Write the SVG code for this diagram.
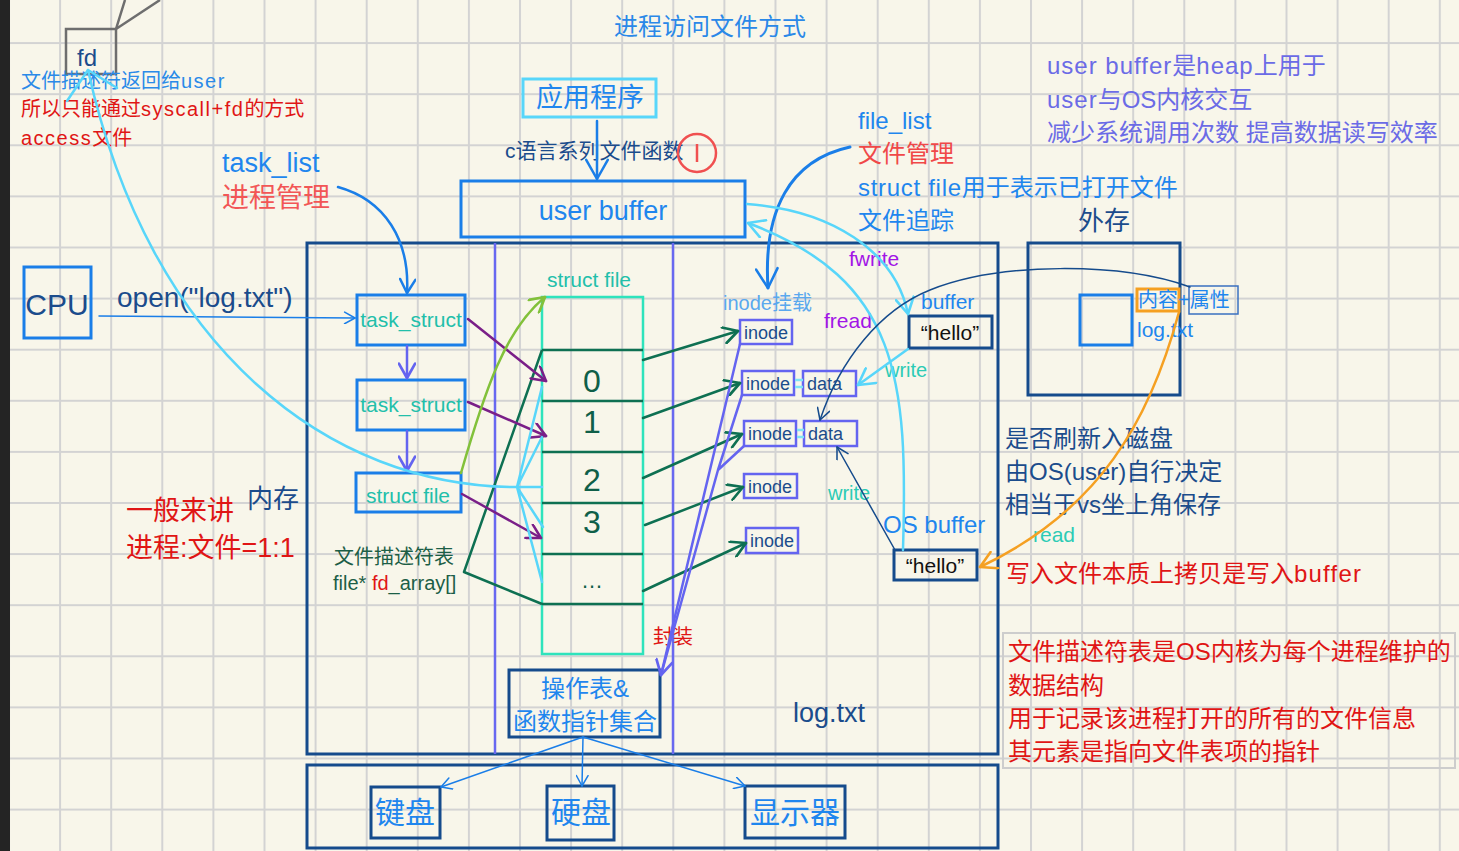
<svg xmlns="http://www.w3.org/2000/svg" width="1459" height="851" viewBox="0 0 1459 851">
<style>
text{font-family:"Liberation Sans","Noto Sans CJK SC",sans-serif;}
.navy{fill:#1b4c8c}.blue{fill:#1f86ee}.red{fill:#e01515}.salmon{fill:#f25656}.teal{fill:#22bfaa}
.purple{fill:#a215e6}.dgreen{fill:#1c5e46}.note{fill:#6b6be6}.lblue{fill:#5aa8ee}.blk{fill:#111}
.bn{fill:none;stroke:#154b8c;stroke-width:3}
.bb{fill:none;stroke:#1a7ee8;stroke-width:3}
.bi{fill:none;stroke:#6464f0;stroke-width:2.5}
.c{text-anchor:middle}
.ln{fill:none;stroke-linecap:round;stroke-linejoin:round}
.ls{letter-spacing:1.5px}
</style>
<defs>
<pattern id="grid" x="8" y="-9" width="51.1" height="51.1" patternUnits="userSpaceOnUse">
<path d="M1,0 V51.1 M0,1 H51.1" stroke="#d3d3d3" stroke-width="2" fill="none"/>
</pattern>
<marker id="aBL" viewBox="0 0 20 20" refX="18" refY="10" markerWidth="24" markerHeight="24" markerUnits="userSpaceOnUse" orient="auto"><path d="M2,1 L18,10 L2,19" fill="none" stroke="#1a7ee8" stroke-width="2.1" stroke-linejoin="round" stroke-linecap="round"/></marker>
<marker id="aBM" viewBox="0 0 20 20" refX="18" refY="10" markerWidth="17" markerHeight="17" markerUnits="userSpaceOnUse" orient="auto"><path d="M2,1 L18,10 L2,19" fill="none" stroke="#1a7ee8" stroke-width="3" stroke-linejoin="round" stroke-linecap="round"/></marker>
<marker id="aBS" viewBox="0 0 20 20" refX="18" refY="10" markerWidth="13" markerHeight="13" markerUnits="userSpaceOnUse" orient="auto"><path d="M2,1 L18,10 L2,19" fill="none" stroke="#1a7ee8" stroke-width="2.3" stroke-linejoin="round" stroke-linecap="round"/></marker>
<marker id="aP" viewBox="0 0 20 20" refX="18" refY="10" markerWidth="17" markerHeight="17" markerUnits="userSpaceOnUse" orient="auto"><path d="M2,1 L18,10 L2,19" fill="none" stroke="#7a1f88" stroke-width="3" stroke-linejoin="round" stroke-linecap="round"/></marker>
<marker id="aI" viewBox="0 0 20 20" refX="18" refY="10" markerWidth="18" markerHeight="18" markerUnits="userSpaceOnUse" orient="auto"><path d="M2,1 L18,10 L2,19" fill="none" stroke="#6464f0" stroke-width="3" stroke-linejoin="round" stroke-linecap="round"/></marker>
<marker id="aG" viewBox="0 0 20 20" refX="18" refY="10" markerWidth="18" markerHeight="18" markerUnits="userSpaceOnUse" orient="auto"><path d="M2,1 L18,10 L2,19" fill="none" stroke="#0e7052" stroke-width="3" stroke-linejoin="round" stroke-linecap="round"/></marker>
<marker id="aL" viewBox="0 0 20 20" refX="18" refY="10" markerWidth="18" markerHeight="18" markerUnits="userSpaceOnUse" orient="auto"><path d="M2,1 L18,10 L2,19" fill="none" stroke="#82c13a" stroke-width="3" stroke-linejoin="round" stroke-linecap="round"/></marker>
<marker id="aC" viewBox="0 0 20 20" refX="18" refY="10" markerWidth="20" markerHeight="20" markerUnits="userSpaceOnUse" orient="auto"><path d="M2,1 L18,10 L2,19" fill="none" stroke="#58d6fa" stroke-width="2.6" stroke-linejoin="round" stroke-linecap="round"/></marker>
<marker id="aN" viewBox="0 0 20 20" refX="18" refY="10" markerWidth="14" markerHeight="14" markerUnits="userSpaceOnUse" orient="auto"><path d="M2,1 L18,10 L2,19" fill="none" stroke="#154b8c" stroke-width="2.2" stroke-linejoin="round" stroke-linecap="round"/></marker>
<marker id="aO" viewBox="0 0 20 20" refX="18" refY="10" markerWidth="20" markerHeight="20" markerUnits="userSpaceOnUse" orient="auto"><path d="M2,1 L18,10 L2,19" fill="none" stroke="#f5a022" stroke-width="2.6" stroke-linejoin="round" stroke-linecap="round"/></marker>
</defs>

<rect x="0" y="0" width="1459" height="851" fill="#f8f6ea"/>
<rect x="0" y="0" width="1459" height="851" fill="url(#grid)"/>
<rect x="0" y="0" width="10" height="851" fill="#242424"/>

<text x="614" y="35" font-size="24" fill="#2a88e8">进程访问文件方式</text>

<g id="fd">
<path d="M116,29 L125,0 M116,29 L160,0" stroke="#6e6e6e" stroke-width="2.5" fill="none"/>
<rect x="66" y="29" width="50" height="45" fill="none" stroke="#6e6e6e" stroke-width="2.5"/>
<text x="77" y="66" font-size="24" class="navy">fd</text>
</g>
<g id="fd-note">
<text x="21" y="88" font-size="20" fill="#2a8ae8">文件描述符返回给<tspan class="ls">user</tspan></text>
<text x="21" y="116" font-size="20" class="red">所以只能通过<tspan class="ls">syscall+fd</tspan>的方式</text>
<text x="21" y="145" font-size="20" class="red"><tspan class="ls">access</tspan>文件</text>
</g>

<g id="app">
<rect x="523" y="79" width="133" height="38" fill="none" stroke="#58d6fa" stroke-width="3"/>
<text x="590" y="107" font-size="27" class="blue c">应用程序</text>
</g>
<g id="cfunc">
<text x="505" y="158" font-size="21" class="navy">c语言系列文件函数</text>
<circle cx="697" cy="153" r="19" fill="none" stroke="#f05050" stroke-width="2.5"/>
<path d="M697,144 V162" stroke="#f05050" stroke-width="2.5"/>
</g>
<g id="userbuffer">
<rect x="461" y="181" width="284" height="56" class="bb"/>
<text x="603" y="220" font-size="27" class="blue c">user buffer</text>
</g>

<g id="tasklist-label">
<text x="222" y="172" font-size="27" class="blue">task_list</text>
<text x="222" y="207" font-size="27" class="salmon">进程管理</text>
</g>

<g id="filelist-label">
<text x="858" y="129" font-size="24" class="blue">file_list</text>
<text x="858" y="162" font-size="24" fill="#f04848">文件管理</text>
<text x="858" y="196" font-size="24" class="blue"><tspan letter-spacing="0.7">struct file</tspan>用于表示已打开文件</text>
<text x="858" y="229" font-size="24" class="blue">文件追踪</text>
</g>

<g id="ub-note">
<text x="1047" y="74" font-size="24" class="note"><tspan letter-spacing="1">user buffer</tspan>是<tspan letter-spacing="1">heap</tspan>上用于</text>
<text x="1047" y="108" font-size="24" class="note"><tspan letter-spacing="1">user</tspan>与OS内核交互</text>
<text x="1047" y="141" font-size="24" class="note">减少系统调用次数 提高数据读写效率</text>
</g>

<g id="cpu">
<rect x="24" y="267" width="67" height="71" class="bb"/>
<text x="57" y="315" font-size="30" class="navy c">CPU</text>
</g>
<text x="117" y="307" font-size="28" class="navy">open("log.txt")</text>

<g id="memory">
<rect x="307" y="243" width="691" height="511" class="bn"/>
<path d="M495,243 V754 M673,243 V754" stroke="#6868f0" stroke-width="2.5"/>
<text x="247" y="508" font-size="26" class="navy">内存</text>
<text x="793" y="722" font-size="27" class="navy">log.txt</text>
</g>

<g id="process-note">
<text x="126" y="520" font-size="27" class="red">一般来讲</text>
<text x="126" y="557" font-size="27" class="red">进程:文件=1:1</text>
</g>

<g id="task1"><rect x="357" y="295" width="108" height="50" class="bb"/><text x="411" y="327" font-size="21" class="teal c">task_struct</text></g>
<g id="task2"><rect x="357" y="380" width="108" height="50" class="bb"/><text x="411" y="412" font-size="21" class="teal c">task_struct</text></g>
<g id="structfile-proc"><rect x="356" y="473" width="105" height="39" class="bb"/><text x="408" y="503" font-size="21" class="teal c">struct file</text></g>

<g id="fdtable-label">
<text x="334" y="564" font-size="20" class="dgreen">文件描述符表</text>
<text x="333" y="590" font-size="20" class="dgreen">file* <tspan class="red">fd</tspan>_array[]</text>
</g>

<g id="fdarray">
<text x="547" y="287" font-size="21" class="teal">struct file</text>
<rect x="542" y="297" width="101" height="357" fill="none" stroke="#2ee3bc" stroke-width="2.5"/>
<path d="M542,350 H643 M542,401 H643 M542,452 H643 M542,503 H643 M542,554 H643 M542,604 H643" stroke="#0e7052" stroke-width="2.5"/>
<path d="M542,350 L464,572 L542,604" fill="none" stroke="#0e7052" stroke-width="2.5" stroke-linejoin="round"/>
<text x="592" y="392" font-size="32" class="c" fill="#0f5f48">0</text>
<text x="592" y="433" font-size="32" class="c" fill="#0f5f48">1</text>
<text x="592" y="491" font-size="32" class="c" fill="#0f5f48">2</text>
<text x="592" y="533" font-size="32" class="c" fill="#0f5f48">3</text>
<text x="592" y="588" font-size="22" class="c" fill="#0f5f48">…</text>
</g>

<text x="723" y="310" font-size="20" class="lblue">inode挂载</text>
<g id="inode1"><rect x="740" y="320" width="52" height="24" class="bi"/><text x="766" y="339" font-size="18" class="navy c">inode</text></g>
<g id="inode2"><rect x="742" y="371" width="52" height="24" class="bi"/><text x="768" y="390" font-size="18" class="navy c">inode</text></g>
<g id="data2"><rect x="803" y="371" width="53" height="25" class="bi"/><text x="807" y="390" font-size="18" class="navy">data</text></g>
<g id="inode3"><rect x="744" y="421" width="52" height="25" class="bi"/><text x="770" y="440" font-size="18" class="navy c">inode</text></g>
<g id="data3"><rect x="804" y="421" width="53" height="25" class="bi"/><text x="808" y="440" font-size="18" class="navy">data</text></g>
<g id="inode4"><rect x="744" y="474" width="53" height="24" class="bi"/><text x="770" y="493" font-size="18" class="navy c">inode</text></g>
<g id="inode5"><rect x="746" y="528" width="52" height="25" class="bi"/><text x="772" y="547" font-size="18" class="navy c">inode</text></g>
<path d="M795,380 H803 M795,387 H803 M797,430 H804 M797,437 H804" stroke="#80e4f6" stroke-width="2.5"/>

<g id="buffer1">
<text x="921" y="309" font-size="21" class="blue">buffer</text>
<rect x="909" y="316" width="83" height="32" class="bn"/>
<text x="950" y="340" font-size="21" class="blk c">“hello”</text>
</g>
<g id="osbuffer">
<text x="883" y="533" font-size="24" class="blue">OS buffer</text>
<rect x="894" y="550" width="83" height="30" class="bn"/>
<text x="935" y="573" font-size="21" class="blk c">“hello”</text>
</g>

<text x="849" y="266" font-size="21" class="purple">fwrite</text>
<text x="824" y="328" font-size="21" class="purple">fread</text>
<text x="885" y="377" font-size="20" fill="#2ccbb5">write</text>
<text x="828" y="500" font-size="20" fill="#2ccbb5">write</text>
<text x="653" y="644" font-size="20" class="red">封装</text>

<g id="optable">
<rect x="509" y="670" width="151" height="67" class="bn"/>
<text x="585" y="697" font-size="24" class="blue c">操作表&amp;</text>
<text x="585" y="730" font-size="24" class="blue c">函数指针集合</text>
</g>

<g id="devices">
<rect x="307" y="765" width="691" height="83" class="bn"/>
</g>
<g id="keyboard"><rect x="371" y="787" width="69" height="51" class="bn"/><text x="405" y="823" font-size="30" class="blue c">键盘</text></g>
<g id="disk"><rect x="547" y="786" width="67" height="54" class="bn"/><text x="581" y="823" font-size="30" class="blue c">硬盘</text></g>
<g id="display"><rect x="745" y="786" width="100" height="52" class="bn"/><text x="795" y="823" font-size="30" class="blue c">显示器</text></g>

<g id="external">
<text x="1078" y="230" font-size="26" class="navy">外存</text>
<rect x="1028" y="243" width="152" height="152" class="bn"/>
<rect x="1080" y="295" width="52" height="50" class="bb"/>
<rect x="1137" y="289" width="42" height="22" fill="none" stroke="#f5a022" stroke-width="3"/>
<rect x="1189" y="286" width="49" height="28" fill="none" stroke="#3a70c0" stroke-width="1.5"/>
<text x="1138" y="307" font-size="20" class="blue">内容+属性</text>
<text x="1137" y="337" font-size="21" class="blue">log.txt</text>
</g>

<g id="flush-note">
<text x="1005" y="447" font-size="24" class="navy">是否刷新入磁盘</text>
<text x="1005" y="480" font-size="24" class="navy">由OS(user)自行决定</text>
<text x="1005" y="513" font-size="24" class="navy">相当于vs坐上角保存</text>
<text x="1033" y="542" font-size="21" fill="#2ccbb5">read</text>
<text x="1006" y="582" font-size="24" class="red">写入文件本质上拷贝是写入<tspan letter-spacing="1.2">buffer</tspan></text>
</g>

<g id="fdtable-note">
<rect x="1003" y="633" width="452" height="135" fill="none" stroke="#cdcdcd" stroke-width="2"/>
<text x="1008" y="660" font-size="24" class="red">文件描述符表是OS内核为每个进程维护的</text>
<text x="1008" y="694" font-size="24" class="red">数据结构</text>
<text x="1008" y="727" font-size="24" class="red">用于记录该进程打开的所有的文件信息</text>
<text x="1008" y="760" font-size="24" class="red">其元素是指向文件表项的指针</text>
</g>

<g id="connectors">
<path d="M597,121 V179" class="ln" stroke="#1a7ee8" stroke-width="2.5" marker-end="url(#aBL)"/>
<path d="M338,187 C385,200 410,240 407,293" class="ln" stroke="#1a7ee8" stroke-width="2.5" marker-end="url(#aBM)"/>
<path d="M850,147 C790,160 763,210 768,288" class="ln" stroke="#1a7ee8" stroke-width="3" marker-end="url(#aBL)"/>
<path d="M99,316 L355,318" class="ln" stroke="#1a7ee8" stroke-width="1.5" marker-end="url(#aBS)"/>
<path d="M407,346 V378" class="ln" stroke="#6464f0" stroke-width="2.5" marker-end="url(#aI)"/>
<path d="M407,431 V471" class="ln" stroke="#6464f0" stroke-width="2.5" marker-end="url(#aI)"/>
<path d="M468,319 L546,381" class="ln" stroke="#7a1f88" stroke-width="2.5" marker-end="url(#aP)"/>
<path d="M468,402 L546,436" class="ln" stroke="#7a1f88" stroke-width="2.5" marker-end="url(#aP)"/>
<path d="M462,494 L541,538" class="ln" stroke="#7a1f88" stroke-width="2.5" marker-end="url(#aP)"/>
<path d="M461,473 C485,390 505,330 545,297" class="ln" stroke="#82c13a" stroke-width="2.5" marker-end="url(#aL)"/>
<path d="M517,487 C330,487 150,350 88,70" class="ln" stroke="#58d6fa" stroke-width="2.5"/>
<path d="M67,101 L88,70 L117,88" class="ln" stroke="#58d6fa" stroke-width="2.5"/>
<path d="M542,387 L517,487 L542,437 M517,487 H542 M517,487 L543,527 M517,487 L542,582" class="ln" stroke="#58d6fa" stroke-width="2.5"/>
<path d="M643,360 L738,331" class="ln" stroke="#0e7052" stroke-width="2.5" marker-end="url(#aG)"/>
<path d="M643,418 L740,383" class="ln" stroke="#0e7052" stroke-width="2.5" marker-end="url(#aG)"/>
<path d="M643,478 L742,434" class="ln" stroke="#0e7052" stroke-width="2.5" marker-end="url(#aG)"/>
<path d="M645,525 L743,487" class="ln" stroke="#0e7052" stroke-width="2.5" marker-end="url(#aG)"/>
<path d="M643,591 L746,543" class="ln" stroke="#0e7052" stroke-width="2.5" marker-end="url(#aG)"/>
<path d="M742,395 L718,470 M744,446 L718,470 L661,675" class="ln" stroke="#6464f0" stroke-width="2.5"/>
<path d="M740,344 L661,675" class="ln" stroke="#6464f0" stroke-width="2.5" marker-end="url(#aI)"/>
<path d="M747,204 C830,210 895,250 908,314" class="ln" stroke="#58d6fa" stroke-width="2.5" marker-end="url(#aC)"/>
<path d="M903,550 C908,380 900,280 748,223" class="ln" stroke="#58d6fa" stroke-width="2.5" marker-end="url(#aC)"/>
<path d="M908,349 L858,385" class="ln" stroke="#58d6fa" stroke-width="2.5" marker-end="url(#aC)"/>
<path d="M1190,287 C1120,262 1000,262 930,290 C880,310 840,360 820,420" class="ln" stroke="#154b8c" stroke-width="1.5" marker-end="url(#aN)"/>
<path d="M895,550 L837,447" class="ln" stroke="#154b8c" stroke-width="1.5" marker-end="url(#aN)"/>
<path d="M1179,312 C1150,420 1100,510 980,567" class="ln" stroke="#f5a022" stroke-width="2.5" marker-end="url(#aO)"/>
<path d="M583,737 L441,787" class="ln" stroke="#1a7ee8" stroke-width="1.5" marker-end="url(#aBS)"/>
<path d="M583,737 L582,786" class="ln" stroke="#1a7ee8" stroke-width="1.5" marker-end="url(#aBS)"/>
<path d="M583,737 L745,786" class="ln" stroke="#1a7ee8" stroke-width="1.5" marker-end="url(#aBS)"/>
</g>
</svg>
